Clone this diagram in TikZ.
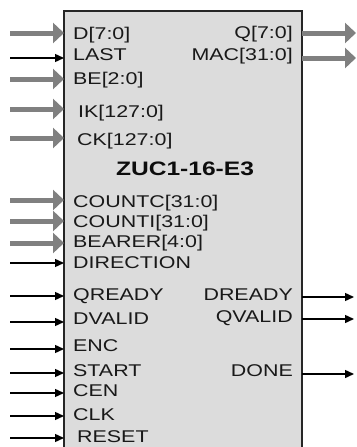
\documentclass[tikz,border=0pt]{standalone}
\usepackage{fontspec}
\setmainfont{Liberation Sans}
\usetikzlibrary{arrows.meta}
\definecolor{chipgray}{HTML}{DCDCDC}
\definecolor{busgray}{HTML}{808080}
\newcommand{\pinname}[1]{\scalebox{1.26}[1]{#1}}

\begin{document}
\begin{tikzpicture}[
    x=1pt, y=-1pt,
    chip/.style={rectangle, draw=black!85, line width=1.7pt, fill=chipgray, minimum width=238pt, minimum height=460pt, anchor=north west, inner sep=0pt, outer sep=0pt},
    pinin/.style={anchor=base west, inner sep=0pt, text=black!90, font=\fontsize{17}{20}\selectfont},
    pinout/.style={anchor=base east, inner sep=0pt, text=black!90, font=\fontsize{17}{20}\selectfont},
    title/.style={anchor=base, inner sep=0pt, text=black!95, font=\fontsize{19.5}{23}\selectfont\bfseries},
    bus/.style={draw=busgray, line width=5pt, -{Triangle[length=11pt, width=20pt]}},
    wire/.style={draw=black, line width=1.4pt, -{Triangle[length=9pt, width=8pt]}}
]
\useasboundingbox (0,0) rectangle (356,447);
\clip (0,0) rectangle (356,447);

% Block
\node (chip) [chip] at (64,11) {};
\node (name) [title] at (185,175) {\pinname{ZUC1-16-E3}};

% Input pins
\node (d) [pinin] at (73,39) {\pinname{D[7:0]}};
\node (last) [pinin] at (73,60) {\pinname{LAST}};
\node (be) [pinin] at (73,84) {\pinname{BE[2:0]}};
\node (ik) [pinin] at (78,117) {\pinname{IK[127:0]}};
\node (ck) [pinin] at (77,145) {\pinname{CK[127:0]}};
\node (countc) [pinin] at (73,207) {\pinname{COUNTC[31:0]}};
\node (counti) [pinin] at (73,227) {\pinname{COUNTI[31:0]}};
\node (bearer) [pinin] at (73,247) {\pinname{BEARER[4:0]}};
\node (direction) [pinin] at (73,268) {\pinname{DIRECTION}};
\node (qready) [pinin] at (73,300.5) {\pinname{QREADY}};
\node (dvalid) [pinin] at (73,324.5) {\pinname{DVALID}};
\node (enc) [pinin] at (73,351.5) {\pinname{ENC}};
\node (start) [pinin] at (73,376) {\pinname{START}};
\node (cen) [pinin] at (73,396) {\pinname{CEN}};
\node (clk) [pinin] at (73,420) {\pinname{CLK}};
\node (reset) [pinin] at (77,442) {\pinname{RESET}};

% Output pins
\node (q) [pinout] at (293,38) {\pinname{Q[7:0]}};
\node (mac) [pinout] at (293,60.5) {\pinname{MAC[31:0]}};
\node (dready) [pinout] at (293,300.5) {\pinname{DREADY}};
\node (qvalid) [pinout] at (293,322.5) {\pinname{QVALID}};
\node (done) [pinout] at (293,376) {\pinname{DONE}};

% Signal ends
\coordinate (d-src) at (10,33);
\coordinate (last-src) at (10,58);
\coordinate (be-src) at (10,79);
\coordinate (ik-src) at (10,109);
\coordinate (ck-src) at (10,138);
\coordinate (countc-src) at (10,200);
\coordinate (counti-src) at (10,221);
\coordinate (bearer-src) at (10,243);
\coordinate (direction-src) at (10,263);
\coordinate (qready-src) at (10,296);
\coordinate (dvalid-src) at (10,322);
\coordinate (enc-src) at (10,349);
\coordinate (start-src) at (10,373);
\coordinate (cen-src) at (10,393);
\coordinate (clk-src) at (10,416);
\coordinate (reset-src) at (10,438);
\coordinate (q-dst) at (356,33);
\coordinate (mac-dst) at (356,58);
\coordinate (dready-dst) at (354,297);
\coordinate (qvalid-dst) at (354,319);
\coordinate (done-dst) at (354,374);

% Arrows
\draw [bus] (d-src) -- (chip.west |- d-src);
\draw [wire] (last-src) -- (chip.west |- last-src);
\draw [bus] (be-src) -- (chip.west |- be-src);
\draw [bus] (ik-src) -- (chip.west |- ik-src);
\draw [bus] (ck-src) -- (chip.west |- ck-src);
\draw [bus] (countc-src) -- (chip.west |- countc-src);
\draw [bus] (counti-src) -- (chip.west |- counti-src);
\draw [bus] (bearer-src) -- (chip.west |- bearer-src);
\draw [wire] (direction-src) -- (chip.west |- direction-src);
\draw [wire] (qready-src) -- (chip.west |- qready-src);
\draw [wire] (dvalid-src) -- (chip.west |- dvalid-src);
\draw [wire] (enc-src) -- (chip.west |- enc-src);
\draw [wire] (start-src) -- (chip.west |- start-src);
\draw [wire] (cen-src) -- (chip.west |- cen-src);
\draw [wire] (clk-src) -- (chip.west |- clk-src);
\draw [wire] (reset-src) -- (chip.west |- reset-src);
\draw [bus] (chip.east |- q-dst) -- (q-dst);
\draw [bus] (chip.east |- mac-dst) -- (mac-dst);
\draw [wire] (chip.east |- dready-dst) -- (dready-dst);
\draw [wire] (chip.east |- qvalid-dst) -- (qvalid-dst);
\draw [wire] (chip.east |- done-dst) -- (done-dst);

\end{tikzpicture}
\end{document}
